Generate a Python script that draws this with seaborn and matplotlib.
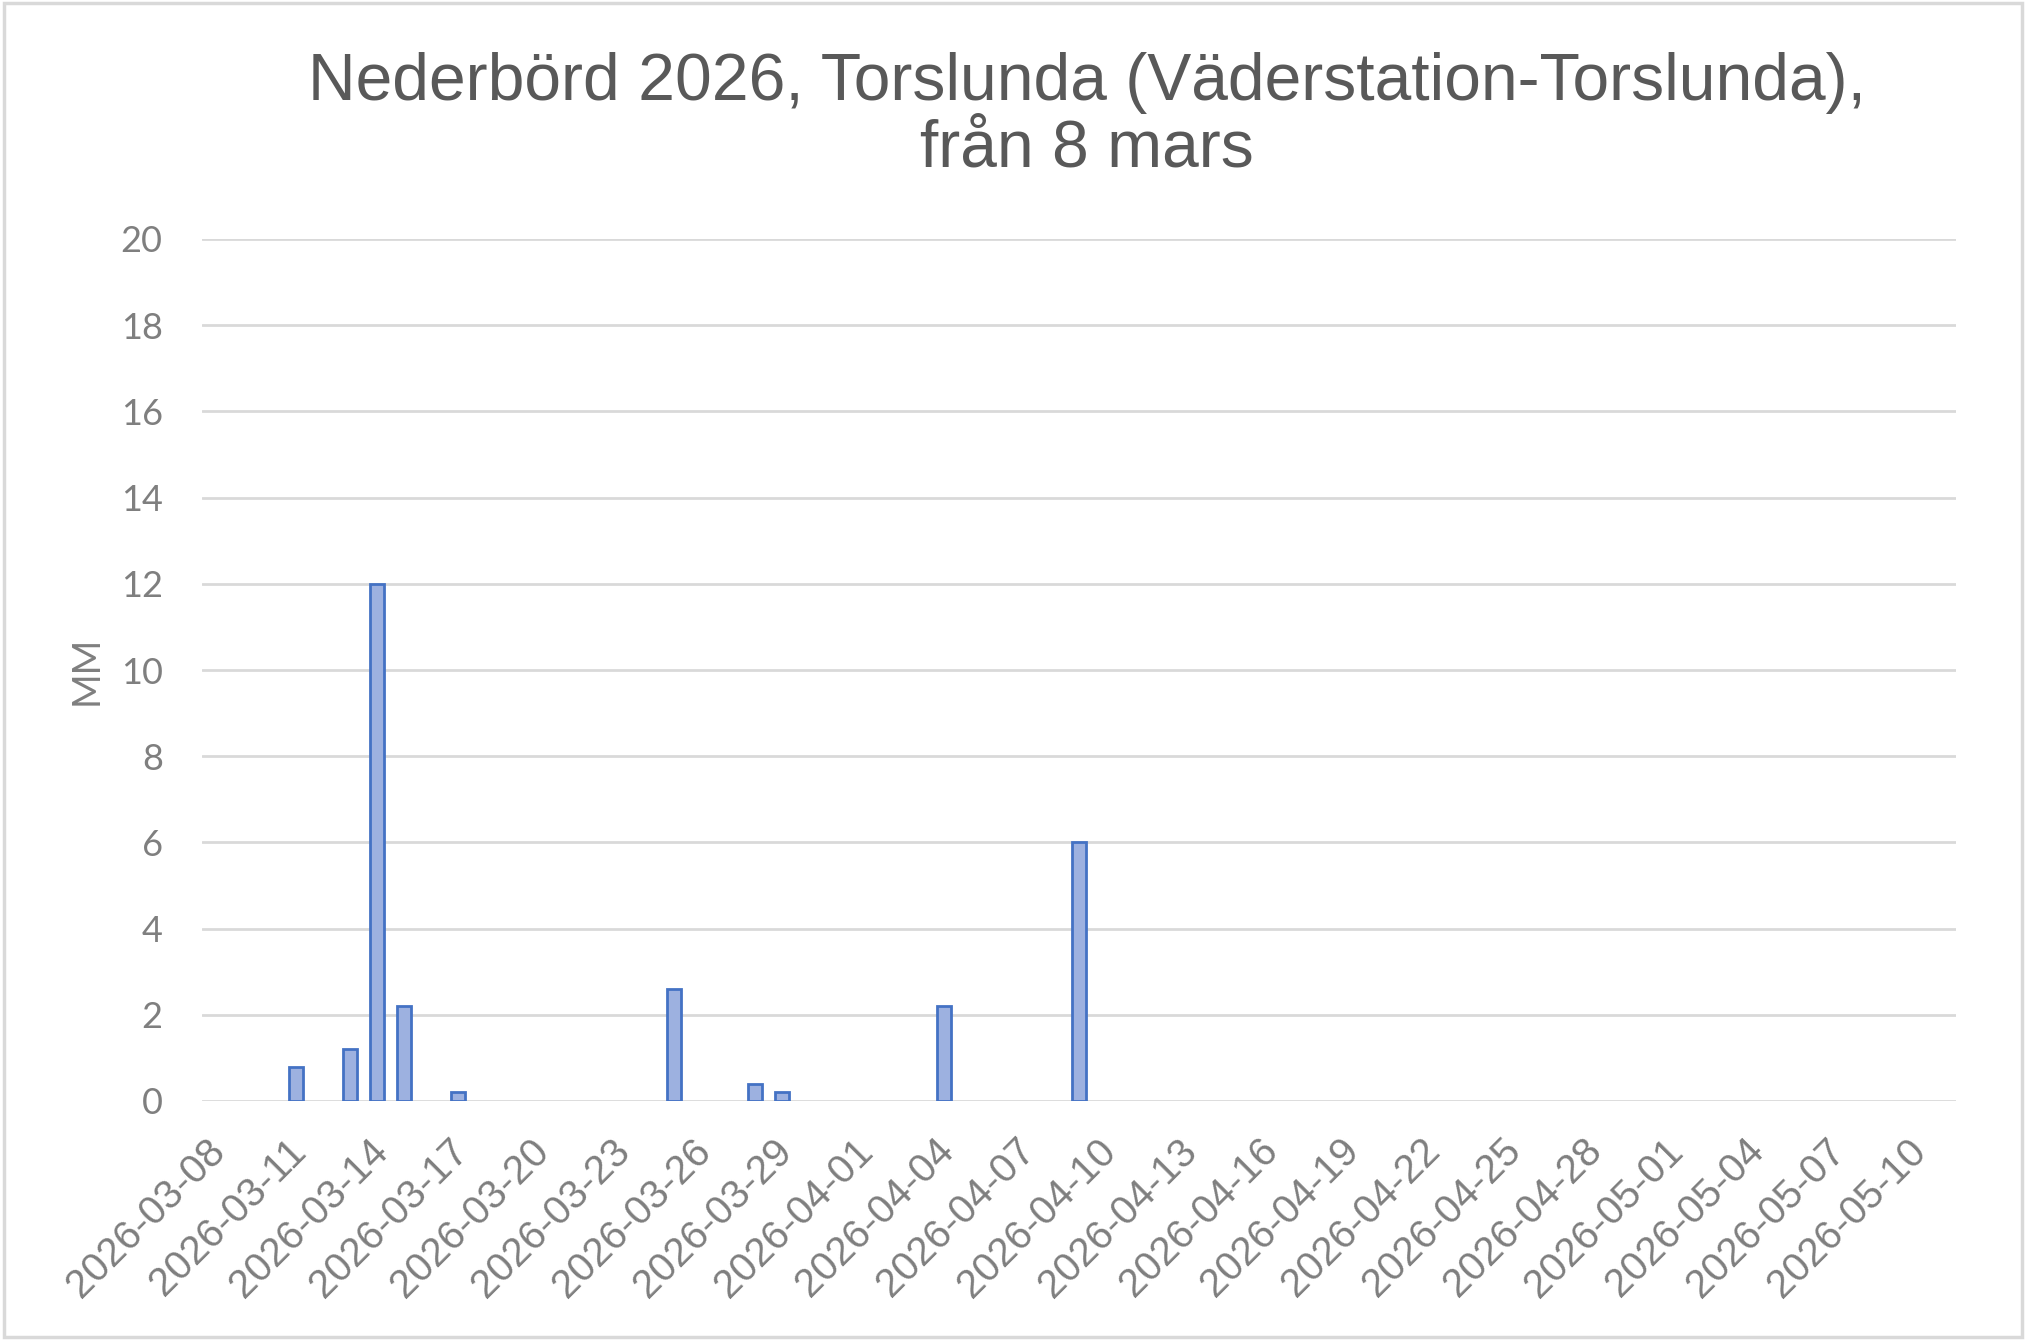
import matplotlib
matplotlib.use("Agg")
import matplotlib.pyplot as plt
import matplotlib.transforms as mtransforms
import seaborn as sns
import pandas as pd
from matplotlib.patches import Rectangle

# ---- data ----
start_date = "2026-03-08"
end_date = "2026-05-11"
rain_dates = ["2026-03-11", "2026-03-13", "2026-03-14", "2026-03-15", "2026-03-17",
              "2026-03-25", "2026-03-28", "2026-03-29", "2026-04-04", "2026-04-09"]
rain_mm = [0.8, 1.2, 12.0, 2.2, 0.2, 2.6, 0.4, 0.2, 2.2, 6.0]
y_ticks = [0, 2, 4, 6, 8, 10, 12, 14, 16, 18, 20]
title = "Nederbörd 2026, Torslunda (Väderstation-Torslunda),\nfrån 8 mars"
y_label = "MM"

all_days = [d.strftime("%Y-%m-%d") for d in pd.date_range(start_date, end_date, freq="D")]
df = pd.DataFrame({"datum": rain_dates, "mm": rain_mm})

sns.set_theme(style="white")
plt.rcParams["font.family"] = ["Liberation Sans", "DejaVu Sans"]

W, H = 2026, 1340
fig = plt.figure(figsize=(W / 100, H / 100), dpi=100)
ax = fig.add_axes([201.6 / W, 1 - 1101 / H, (1956 - 201.6) / W, (1101 - 239) / H])

sns.barplot(data=df, x="datum", y="mm", order=all_days, ax=ax,
            color="#9DB1E0", edgecolor="#4472C4", linewidth=2.0,
            width=0.5, saturation=1, errorbar=None, zorder=3)
for p in ax.patches:
    p.set_facecolor("#9DB1E0")

ax.set_xlim(-0.5, len(all_days) - 0.5)
ax.set_ylim(0, 20)
ax.tick_params(axis="x", length=0, pad=22)
ax.tick_params(axis="y", length=0, pad=28)
ax.set_yticks(y_ticks)
ax.set_yticklabels([str(v) for v in y_ticks], family=["Lato", "DejaVu Sans"],
                   fontsize=26, color="#7F7F7F")
tick_pos = list(range(0, len(all_days) - 1, 3))
ax.set_xticks(tick_pos)
ax.set_xticklabels([all_days[i] for i in tick_pos], rotation=45, ha="right",
                   rotation_mode="anchor", fontsize=29, color="#7F7F7F")
offset = mtransforms.ScaledTranslation(-9 / 100, 0, fig.dpi_scale_trans)
for lab in ax.get_xticklabels():
    lab.set_transform(lab.get_transform() + offset)
ax.grid(axis="y", color="#D9D9D9", linewidth=2, zorder=0)
ax.set_axisbelow(True)
for s in ax.spines.values():
    s.set_visible(False)
ax.set_xlabel("")
ax.set_ylabel(y_label, family=["Lato", "DejaVu Sans"], fontsize=27, color="#7F7F7F")
ax.yaxis.set_label_coords(-0.055, 0.5)

fig.text(1087 / W, 1 - 52 / H, title, ha="center", va="top", fontsize=47.5,
         color="#595959", linespacing=1.1, multialignment="center")

fig.patches.append(Rectangle((0.002, 0.002), 0.996, 0.996, transform=fig.transFigure,
                             fill=False, edgecolor="#D9D9D9", linewidth=2.5))

fig.savefig("out.png", dpi=100, facecolor="white")
